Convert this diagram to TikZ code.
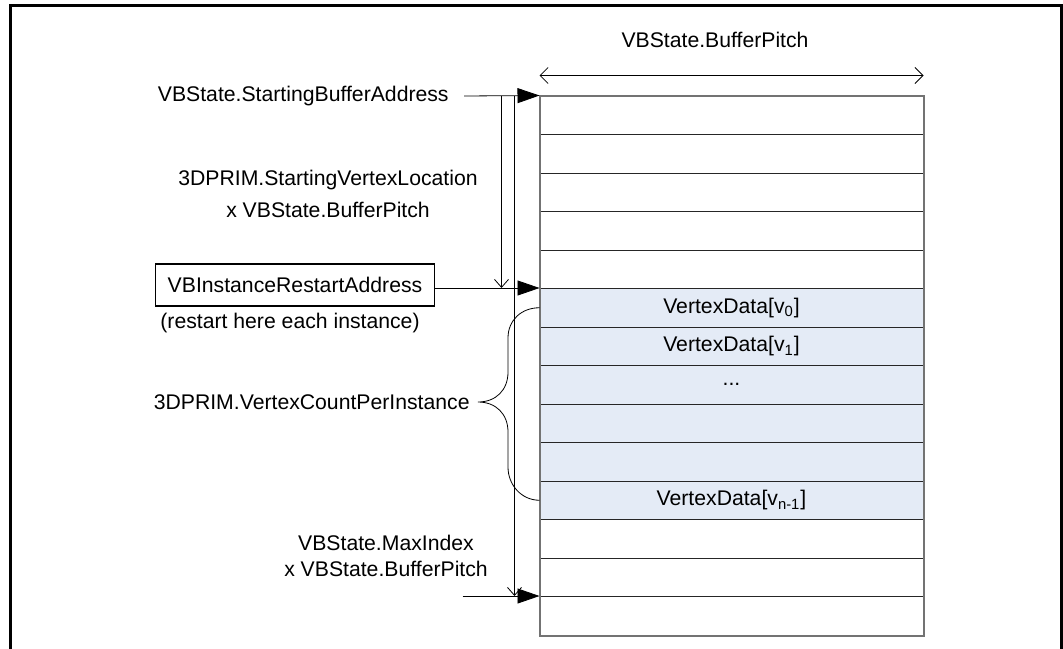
\documentclass[tikz,border=0pt]{standalone}
\usepackage{fontspec}
\setmainfont{Liberation Sans}
\usetikzlibrary{arrows.meta,positioning}
\definecolor{rowblue}{RGB}{228,235,246}
\begin{document}
\begin{tikzpicture}[x=0.5pt, y=-0.5pt, inner sep=0pt,
		font=\fontsize{10.6}{13}\selectfont,
		row/.style={draw=black!85, line width=0.5pt, minimum width=191.5pt, minimum height=19.25pt},
		fat/.style={-{Triangle[length=11pt,width=7.5pt]}},
		thin/.style={-{Straight Barb[length=4pt,width=7pt]}}]
		\useasboundingbox (0,0) rectangle (1063,648);
		\draw[line width=1.5pt] (10,650) -- (10,5) -- (1061,5) -- (1061,650);
		% buffer rows
		\foreach \i in {0,...,4,11,12,13}
			\node[row, fill=white] (r\i) at (731.5, {115.25+38.5*\i}) {};
		\foreach \i in {5,...,10}
			\node[row, fill=rowblue] (r\i) at (731.5, {115.25+38.5*\i}) {};
		\draw[black!55, line width=1pt] (r0.north west) rectangle (r13.south east);
		\node at (r5) {VertexData[v\textsubscript{0}]};
		\node at (r6) {VertexData[v\textsubscript{1}]};
		\node at (r7) {...};
		\node at (r10) {VertexData[v\textsubscript{n-1}]};
		% pitch
		\node (pitch) at (715, 40) {VBState.BufferPitch};
		\coordinate[above=10pt of r0.north west] (pl);
		\coordinate[above=10pt of r0.north east] (pr);
		\draw[{Straight Barb[length=4pt,width=8pt]}-{Straight Barb[length=4pt,width=8pt]}] (pl) -- (pr);
		% left side
		\node[anchor=east] (start) at (449, 96) {VBState.StartingBufferAddress};
		\draw[fat] ([xshift=7.5pt]start.east) -- (r0.north west);
		\draw[thin] ([xshift=-19pt]r0.north west) -- ([xshift=-19pt]r5.north west);
		\draw[thin] ([xshift=-12.5pt]r0.north west) -- ([xshift=-12.5pt]r13.north west);
		\node[align=center] (offset) at (328, 194) {3DPRIM.StartingVertexLocation\\[3pt]x VBState.BufferPitch};
		\node[draw, line width=0.8pt, minimum width=139.5pt, minimum height=21pt] (restart) at (295, 285) {VBInstanceRestartAddress};
		\node (note) at (290, 323) {(restart here each instance)};
		\draw[fat] (restart.east |- r5.north west) -- (r5.north west);
		\coordinate (tip) at (478, 402);
		\draw (r5.west) .. controls +(-18,0) and +(0,-18) .. (508,338) -- (508,372)
			.. controls +(0,18) and +(18,0) .. (tip)
			.. controls +(18,0) and +(0,-18) .. (508,432) -- (508,467)
			.. controls +(0,18) and +(-18,0) .. (r10.west);
		\node[anchor=east] (count) at ([xshift=-4pt]tip) {3DPRIM.VertexCountPerInstance};
		\node[align=center] (maxidx) at (386, 556) {VBState.MaxIndex\\x VBState.BufferPitch};
		\coordinate[left=38.5pt of r13.north west] (maxin);
		\draw[fat] (maxin) -- (r13.north west);
	\end{tikzpicture}
\end{document}
